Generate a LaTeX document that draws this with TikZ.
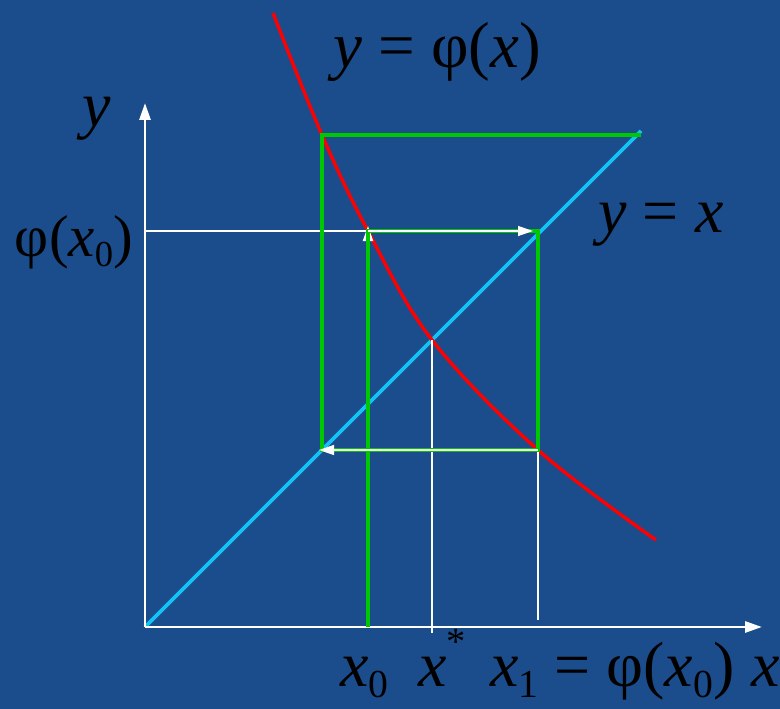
\documentclass[tikz,border=0pt]{standalone}
\usepackage{fontspec}
\usepackage{graphicx}
\setmainfont{Liberation Serif}
\usetikzlibrary{arrows.meta}
\definecolor{slidebg}{RGB}{27,77,140}
\definecolor{diagcyan}{RGB}{20,195,245}
\definecolor{mapred}{RGB}{255,0,0}
\definecolor{cobgreen}{RGB}{0,200,0}
\newcommand{\idx}[1]{\raisebox{-0.18em}{\scalebox{0.62}{#1}}}
\begin{document}
\begin{tikzpicture}[x=1pt, y=-1pt,
    axis/.style={white, line width=2.8pt, -{Triangle[length=17pt,width=11pt]}},
    guide/.style={white, line width=2.6pt},
    guidearrow/.style={white, line width=1.3pt, -{Triangle[length=15pt,width=10pt]}},
    cobweb/.style={cobgreen, line width=4.2pt},
    lbl/.style={text=black, inner sep=0pt, anchor=base}]
    \path[use as bounding box, fill=slidebg] (0,0) rectangle (780,709);

    % points of the picture
    \coordinate (O) at (145,627);
    \coordinate (xend) at (762,627);
    \coordinate (yend) at (145,103);
    \coordinate (diagend) at (641,131);
    \coordinate (fix) at (432,340);
    \coordinate (fixfoot) at (432,633);
    \coordinate (x0foot) at (368,627);
    \coordinate (phiy) at (145,231);
    \coordinate (p0) at (368,231);
    \coordinate (q0) at (538,231);
    \coordinate (p1) at (538,450);
    \coordinate (x1foot) at (538,620);
    \coordinate (q1) at (322,450);
    \coordinate (p2) at (322,135);
    \coordinate (q2) at (641,135);

    % y = x and y = phi(x)
    \draw[diagcyan, line width=3.8pt] (O) -- (diagend);
    \draw[mapred, line width=3.4pt] plot[smooth, tension=0.6] coordinates
        {(273,13) (322,135) (368,231) (432,340) (538,450) (656,540)};

    % axes and guides
    \draw[axis] (O) -- (xend);
    \draw[axis] (O) -- (yend);
    \draw[guide] (fix) -- (fixfoot);
    \draw[guide] (p1) -- (x1foot);
    \draw[guide] (phiy) -- (p0);
    \draw[guidearrow, line width=2pt] (x0foot) -- ([yshift=5pt]p0);

    % cobweb steps
    \draw[cobweb] (x0foot) -- (p0) -- (q0) -- (p1) -- (q1) -- (p2) -- (q2);
    \draw[guidearrow] (p0) -- ([xshift=-5pt]q0);
    \draw[guidearrow] (p1) -- ([xshift=-3pt]q1);

    % labels
    \node[lbl, font=\fontsize{65}{66}\selectfont] (title) at (437,68) {\textit{y} = φ(\textit{x})};
    \node[lbl, font=\fontsize{64}{64}\selectfont] (ylab) at (97,127) {\textit{y}};
    \node[lbl, anchor=base east, font=\fontsize{59}{59}\selectfont] (philab) at (133,256) {φ(\textit{x}\idx{0})};
    \node[lbl, font=\fontsize{64}{64}\selectfont] (diaglab) at (661,232) {\textit{y} = \textit{x}};
    \node[lbl, anchor=base west, font=\fontsize{64}{64}\selectfont] (x0lab) at (340,686) {\textit{x}\idx{0}};
    \node[lbl, anchor=base west, font=\fontsize{64}{64}\selectfont] (xstarlab) at (418,686) {\textit{x}\raisebox{0.5em}{\scalebox{0.6}{*}}};
    \node[lbl, anchor=base west, font=\fontsize{64}{64}\selectfont] (x1lab) at (490,686) {\textit{x}\idx{1} = φ(\textit{x}\idx{0})};
    \node[lbl, anchor=base west, font=\fontsize{64}{64}\selectfont] (xlab) at (751,686) {\textit{x}};
\end{tikzpicture}
\end{document}
